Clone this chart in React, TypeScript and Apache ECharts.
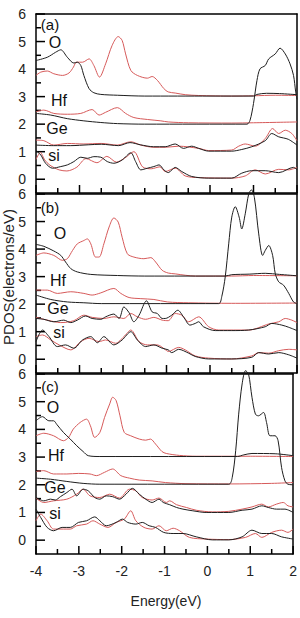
import React, { useEffect, useRef } from "react";
import * as echarts from "echarts";

type Pt = [number, number];

// Projected DOS (electrons/eV) vs energy (eV). Curves are stacked with
// offsets: O +3, Hf +2, Ge +1, Si +0. Black = one configuration, red = the other.

// ---- panel (a) ----
const aOBlack: Pt[] = [[-4, 4.31], [-3.74, 4.43], [-3.55, 4.61], [-3.43, 4.7], [-3.28, 4.43], [-3.13, 4.22], [-3.05, 4.25], [-2.97, 4.13], [-2.9, 3.77], [-2.78, 3.29], [-2.67, 3.14], [-2.51, 3.08], [-2.13, 3.05], [-1.5, 3.02], [0, 3.02], [1.0, 3.02], [1.08, 3.08], [1.3, 3.12], [1.6, 3.11], [2.0, 3.07]];
const aORed: Pt[] = [[-4, 3.77], [-3.89, 3.89], [-3.74, 3.93], [-3.59, 3.83], [-3.39, 3.77], [-3.24, 3.86], [-3.14, 4.07], [-3.07, 4.25], [-2.93, 4.25], [-2.78, 4.37], [-2.67, 4.13], [-2.54, 3.71], [-2.4, 4.19], [-2.25, 4.86], [-2.11, 5.18], [-2.02, 5.04], [-1.94, 4.55], [-1.82, 3.95], [-1.67, 3.77], [-1.44, 3.67], [-1.33, 3.73], [-1.21, 3.59], [-1.06, 3.29], [-0.96, 3.17], [-0.8, 3.13], [-0.57, 3.07], [-0.26, 3.04], [0.5, 3.02], [1.0, 3.03], [1.5, 3.05], [2.0, 3.04]];
const aHfBlack: Pt[] = [[-4, 2.39], [-3.66, 2.33], [-3.28, 2.2], [-2.9, 2.12], [-2.51, 2.06], [-2.13, 2.02], [-1.5, 2.0], [0.85, 2.0], [0.92, 2.14], [1.0, 2.75], [1.08, 3.59], [1.15, 4.01], [1.27, 4.13], [1.35, 4.37], [1.5, 4.55], [1.61, 4.76], [1.73, 4.55], [1.84, 4.19], [1.92, 3.77], [1.97, 3.17], [2.0, 2.9]];
const aHfRed: Pt[] = [[-4, 2.45], [-3.82, 2.51], [-3.59, 2.39], [-3.28, 2.36], [-2.97, 2.39], [-2.71, 2.53], [-2.55, 2.33], [-2.4, 2.43], [-2.13, 2.6], [-1.94, 2.39], [-1.75, 2.24], [-1.44, 2.17], [-1.13, 2.12], [-0.96, 2.08], [-0.5, 2.05], [0.5, 2.04], [1.0, 2.05], [2.0, 2.08]];
const aGeBlack: Pt[] = [[-4, 1.24], [-3.6, 1.22], [-3.2, 1.22], [-2.8, 1.25], [-2.5, 1.27], [-2.1, 1.22], [-1.84, 1.33], [-1.6, 1.25], [-1.3, 1.18], [-1.03, 1.18], [-0.8, 1.28], [-0.61, 1.12], [-0.42, 1.2], [-0.26, 1.12], [-0.03, 1.02], [0.5, 1.02], [0.73, 1.08], [0.96, 1.18], [1.27, 1.4], [1.42, 1.66], [1.58, 1.54], [1.8, 1.45], [2.0, 1.24]];
const aGeRed: Pt[] = [[-4, 1.42], [-3.82, 1.4], [-3.59, 1.24], [-3.28, 1.3], [-2.9, 1.28], [-2.5, 1.3], [-2.13, 1.24], [-1.82, 1.36], [-1.59, 1.24], [-1.29, 1.16], [-1.03, 1.16], [-0.72, 1.2], [-0.26, 1.12], [-0.03, 1.04], [0.5, 1.06], [0.66, 1.2], [0.81, 1.28], [1.04, 1.2], [1.27, 1.48], [1.44, 1.84], [1.58, 1.66], [1.73, 1.78], [1.88, 1.66], [2.0, 1.4]];
const aSiBlack: Pt[] = [[-4, 1.04], [-3.89, 0.88], [-3.78, 0.58], [-3.62, 0.4], [-3.43, 0.46], [-3.28, 0.52], [-3.13, 0.64], [-2.97, 0.8], [-2.82, 0.76], [-2.67, 0.82], [-2.51, 0.8], [-2.36, 0.64], [-2.21, 0.58], [-2.02, 0.7], [-1.82, 0.96], [-1.71, 0.64], [-1.59, 0.34], [-1.44, 0.4], [-1.29, 0.46], [-1.17, 0.52], [-1.06, 0.34], [-0.96, 0.24], [-0.8, 0.43], [-0.65, 0.28], [-0.42, 0.1], [-0.03, 0.04], [0.5, 0.04], [0.73, 0.22], [0.96, 0.31], [1.27, 0.31], [1.58, 0.24], [1.92, 0.43], [2.0, 0.34]];
const aSiRed: Pt[] = [[-4, 0.72], [-3.9, 0.97], [-3.8, 0.7], [-3.68, 0.51], [-3.47, 0.34], [-3.29, 0.3], [-3.06, 0.44], [-2.85, 0.75], [-2.6, 0.6], [-2.37, 0.83], [-2.15, 0.62], [-1.95, 0.78], [-1.75, 1.0], [-1.55, 0.45], [-1.35, 0.38], [-1.15, 0.45], [-1.03, 0.28], [-0.8, 0.4], [-0.57, 0.12], [-0.26, 0.06], [0.5, 0.04], [0.81, 0.12], [1.04, 0.34], [1.27, 0.19], [1.58, 0.36], [1.81, 0.34], [2.0, 0.43]];

// ---- panel (b) ----
const bOBlack: Pt[] = [[-4, 4.17], [-3.82, 4.1], [-3.59, 3.93], [-3.43, 3.77], [-3.32, 3.53], [-3.2, 3.29], [-3.05, 3.17], [-2.74, 3.08], [-2.13, 3.04], [-1.5, 3.02], [0.35, 3.02], [0.5, 3.07], [0.9, 3.09], [1.27, 3.12], [1.6, 3.08], [2.0, 3.03]];
const bORed: Pt[] = [[-4, 3.77], [-3.82, 3.86], [-3.59, 3.77], [-3.39, 3.59], [-3.28, 3.65], [-3.16, 3.95], [-3.05, 4.19], [-2.9, 4.31], [-2.82, 4.37], [-2.74, 4.19], [-2.63, 3.71], [-2.55, 3.71], [-2.44, 4.19], [-2.32, 4.8], [-2.21, 5.13], [-2.11, 4.98], [-2.02, 4.43], [-1.9, 3.83], [-1.75, 3.71], [-1.52, 3.65], [-1.36, 3.69], [-1.25, 3.53], [-1.1, 3.23], [-0.96, 3.13], [-0.8, 3.1], [-0.57, 3.05], [-0.34, 3.02], [0.5, 3.02], [1.0, 3.04], [2.0, 3.03]];
const bHfBlack: Pt[] = [[-4, 2.33], [-3.66, 2.17], [-3.28, 2.08], [-2.9, 2.05], [-2.5, 2.02], [0.2, 2.02], [0.27, 2.27], [0.35, 2.99], [0.43, 4.19], [0.5, 5.16], [0.58, 5.54], [0.67, 5.16], [0.73, 4.73], [0.81, 5.28], [0.89, 6.0], [0.95, 6.15], [1.02, 5.88], [1.12, 4.55], [1.21, 3.77], [1.27, 3.95], [1.35, 4.13], [1.44, 3.77], [1.5, 3.11], [1.58, 2.81], [1.69, 2.69], [1.81, 2.39], [1.92, 2.08], [2.0, 2.02]];
const bHfRed: Pt[] = [[-4, 2.51], [-3.74, 2.51], [-3.51, 2.39], [-3.2, 2.45], [-2.9, 2.39], [-2.71, 2.33], [-2.51, 2.41], [-2.21, 2.57], [-2.05, 2.39], [-1.86, 2.24], [-1.59, 2.2], [-1.29, 2.17], [-0.98, 2.08], [-0.5, 2.05], [0.5, 2.03], [2.0, 2.04]];
const bGeBlack: Pt[] = [[-4, 1.48], [-3.82, 1.45], [-3.59, 1.36], [-3.36, 1.42], [-3.2, 1.33], [-3.05, 1.42], [-2.86, 1.57], [-2.71, 1.48], [-2.51, 1.45], [-2.4, 1.54], [-2.21, 1.64], [-2.09, 1.48], [-1.98, 1.9], [-1.86, 1.69], [-1.75, 1.36], [-1.63, 1.6], [-1.46, 2.12], [-1.33, 1.72], [-1.21, 1.66], [-1.1, 1.48], [-1.03, 1.48], [-0.88, 1.6], [-0.74, 1.78], [-0.61, 1.54], [-0.46, 1.24], [-0.34, 1.3], [-0.26, 1.36], [-0.15, 1.18], [0.12, 1.04], [0.5, 1.04], [0.89, 1.06], [1.27, 1.18], [1.42, 1.3], [1.65, 1.24], [1.81, 1.16], [2.0, 1.04]];
const bGeRed: Pt[] = [[-4, 1.52], [-3.74, 1.42], [-3.43, 1.33], [-3.13, 1.4], [-2.9, 1.6], [-2.71, 1.52], [-2.44, 1.48], [-2.21, 1.54], [-1.98, 1.48], [-1.82, 1.66], [-1.67, 1.54], [-1.48, 1.45], [-1.29, 1.52], [-1.1, 1.42], [-0.96, 1.4], [-0.8, 1.66], [-0.65, 1.6], [-0.49, 1.36], [-0.26, 1.54], [-0.03, 1.18], [0.2, 1.06], [0.89, 1.06], [1.35, 1.28], [1.58, 1.36], [1.73, 1.48], [1.88, 1.42], [2.0, 1.33]];
const bSiBlack: Pt[] = [[-4, 0.64], [-3.85, 1.06], [-3.7, 0.82], [-3.51, 0.46], [-3.32, 0.52], [-3.13, 0.4], [-2.93, 0.7], [-2.74, 0.82], [-2.59, 0.6], [-2.44, 0.82], [-2.21, 0.52], [-2.02, 0.7], [-1.82, 1.0], [-1.67, 0.7], [-1.48, 0.46], [-1.29, 0.52], [-1.1, 0.4], [-0.96, 0.34], [-0.88, 0.24], [-0.72, 0.36], [-0.49, 0.22], [-0.34, 0.1], [-0.03, 0.01], [0.5, 0.01], [0.96, 0.07], [1.12, 0.24], [1.35, 0.19], [1.58, 0.24], [1.81, 0.16], [2.0, 0.04]];
const bSiRed: Pt[] = [[-4, 0.82], [-3.85, 0.88], [-3.66, 0.7], [-3.47, 0.52], [-3.2, 0.34], [-2.97, 0.64], [-2.78, 0.76], [-2.55, 0.64], [-2.4, 0.7], [-2.17, 0.58], [-1.98, 0.82], [-1.82, 1.06], [-1.63, 0.64], [-1.44, 0.52], [-1.21, 0.52], [-1.02, 0.34], [-0.96, 0.28], [-0.72, 0.43], [-0.57, 0.34], [-0.34, 0.12], [-0.03, 0.04], [0.5, 0.01], [0.96, 0.12], [1.12, 0.24], [1.35, 0.22], [1.58, 0.31], [1.81, 0.36], [2.0, 0.34]];

// ---- panel (c) ----
const cOBlack: Pt[] = [[-4, 4.31], [-3.85, 4.46], [-3.7, 4.31], [-3.59, 4.31], [-3.51, 4.17], [-3.36, 3.89], [-3.2, 3.65], [-3.05, 3.41], [-2.9, 3.2], [-2.78, 3.05], [-2.51, 3.02], [0.7, 3.02], [0.85, 3.08], [1.04, 3.13], [1.58, 3.12], [2.0, 3.05]];
const cORed: Pt[] = [[-4, 3.77], [-3.82, 3.86], [-3.59, 3.77], [-3.36, 3.59], [-3.24, 3.71], [-3.13, 4.01], [-2.97, 4.25], [-2.82, 4.37], [-2.73, 4.13], [-2.63, 3.71], [-2.51, 3.89], [-2.4, 4.43], [-2.28, 4.92], [-2.21, 5.16], [-2.13, 5.04], [-2.04, 4.49], [-1.94, 3.89], [-1.79, 3.77], [-1.59, 3.65], [-1.44, 3.61], [-1.33, 3.65], [-1.21, 3.47], [-1.06, 3.2], [-0.96, 3.13], [-0.65, 3.06], [-0.26, 3.03], [1.0, 3.03], [2.0, 3.02]];
const cHfBlack: Pt[] = [[-4, 2.24], [-3.66, 2.2], [-3.28, 2.12], [-2.9, 2.05], [-2.51, 2.02], [0.5, 2.02], [0.58, 2.27], [0.66, 3.23], [0.73, 4.55], [0.81, 5.64], [0.89, 6.12], [0.96, 6.0], [1.04, 5.16], [1.12, 4.55], [1.19, 4.49], [1.31, 4.61], [1.38, 4.25], [1.46, 3.77], [1.58, 3.77], [1.65, 3.59], [1.73, 2.63], [1.81, 2.14], [1.88, 2.02], [2.0, 2.0]];
const cHfRed: Pt[] = [[-4, 2.48], [-3.82, 2.51], [-3.59, 2.39], [-3.28, 2.39], [-3.01, 2.41], [-2.74, 2.39], [-2.59, 2.33], [-2.4, 2.45], [-2.21, 2.57], [-2.02, 2.33], [-1.82, 2.24], [-1.59, 2.17], [-1.29, 2.14], [-0.98, 2.08], [-0.5, 2.04], [0.5, 2.03], [1.5, 2.05], [2.0, 2.08]];
const cGeBlack: Pt[] = [[-4, 1.54], [-3.82, 1.42], [-3.66, 1.48], [-3.55, 1.45], [-3.43, 1.57], [-3.28, 1.72], [-3.16, 1.84], [-3.05, 1.6], [-2.9, 1.84], [-2.78, 1.78], [-2.63, 1.54], [-2.51, 1.48], [-2.36, 1.6], [-2.21, 1.57], [-2.05, 1.48], [-1.9, 1.66], [-1.75, 1.87], [-1.59, 1.66], [-1.44, 1.48], [-1.29, 1.36], [-1.13, 1.48], [-1.03, 1.36], [-0.88, 1.28], [-0.72, 1.18], [-0.57, 1.12], [-0.34, 1.06], [-0.03, 1.0], [0.5, 1.0], [0.81, 1.08], [1.04, 1.12], [1.27, 1.24], [1.42, 1.18], [1.61, 1.12], [1.81, 1.12], [2.0, 1.0]];
const cGeRed: Pt[] = [[-4, 1.52], [-3.82, 1.36], [-3.59, 1.42], [-3.28, 1.48], [-3.05, 1.66], [-2.9, 1.84], [-2.74, 1.6], [-2.51, 1.54], [-2.28, 1.66], [-2.05, 1.52], [-1.82, 1.84], [-1.67, 1.78], [-1.52, 1.54], [-1.29, 1.45], [-1.13, 1.52], [-0.96, 1.36], [-0.88, 1.42], [-0.72, 1.28], [-0.49, 1.18], [-0.26, 1.08], [0.12, 1.02], [0.5, 1.04], [0.81, 1.12], [1.04, 1.2], [1.27, 1.3], [1.42, 1.2], [1.61, 1.3], [1.77, 1.36], [1.88, 1.24], [2.0, 1.2]];
const cSiBlack: Pt[] = [[-4, 1.12], [-3.89, 0.82], [-3.74, 0.46], [-3.59, 0.34], [-3.39, 0.46], [-3.2, 0.46], [-3.01, 0.64], [-2.82, 0.7], [-2.63, 0.84], [-2.51, 0.7], [-2.36, 0.52], [-2.13, 0.64], [-1.98, 0.76], [-1.86, 0.64], [-1.67, 0.58], [-1.52, 0.64], [-1.36, 0.52], [-1.21, 0.46], [-1.02, 0.28], [-0.8, 0.24], [-0.57, 0.24], [-0.26, 0.12], [0.12, 0.01], [0.5, 0.01], [0.81, 0.12], [1.04, 0.36], [1.27, 0.24], [1.5, 0.24], [1.73, 0.12], [2.0, 0.04]];
const cSiRed: Pt[] = [[-4, 0.7], [-3.89, 0.94], [-3.74, 0.7], [-3.59, 0.4], [-3.36, 0.4], [-3.2, 0.4], [-3.05, 0.52], [-2.82, 0.58], [-2.67, 0.7], [-2.51, 0.58], [-2.32, 0.46], [-2.13, 0.64], [-1.94, 0.76], [-1.79, 1.06], [-1.67, 0.7], [-1.48, 0.46], [-1.29, 0.4], [-1.13, 0.52], [-0.96, 0.34], [-0.8, 0.43], [-0.65, 0.34], [-0.42, 0.1], [-0.03, 0.04], [0.5, 0.02], [0.89, 0.1], [1.12, 0.24], [1.27, 0.1], [1.5, 0.28], [1.73, 0.36], [1.88, 0.28], [2.0, 0.4]];

const panelTags = ["(a)", "(b)", "(c)"];
const speciesNames = ["O", "Hf", "Ge", "si"];
const xTickValues = [-4, -3, -2, -1, 0, 1, 2];
const xMinorValues = [-3.5, -2.5, -1.5, -0.5, 0.5, 1.5];
const yTickValues = [0, 1, 2, 3, 4, 5, 6];
const yMinorValues = [0.5, 1.5, 2.5, 3.5, 4.5, 5.5];
const X_MIN = -4;
const X_MAX = 2;
const Y_MIN = -0.5;
const Y_MAX = 6;

const panels: { black: Pt[]; red: Pt[] }[][] = [
  [
    { black: aOBlack, red: aORed },
    { black: aHfBlack, red: aHfRed },
    { black: aGeBlack, red: aGeRed },
    { black: aSiBlack, red: aSiRed },
  ],
  [
    { black: bOBlack, red: bORed },
    { black: bHfBlack, red: bHfRed },
    { black: bGeBlack, red: bGeRed },
    { black: bSiBlack, red: bSiRed },
  ],
  [
    { black: cOBlack, red: cORed },
    { black: cHfBlack, red: cHfRed },
    { black: cGeBlack, red: cGeRed },
    { black: cSiBlack, red: cSiRed },
  ],
];

const FONT = "'Liberation Sans', Arial, Helvetica, sans-serif";
const BLACK = "#1e1e1e";
const RED = "#d65a5a";
const FRAME = "#000";

// layout of the three stacked frames
const gridBoxes = [
  { top: 14, height: 179 },
  { top: 194, height: 179 },
  { top: 374, height: 180 },
];

// annotation placement in each frame (pixel centres)
const tagPos = [
  [50, 24],
  [50, 207],
  [50, 386],
];
const speciesPos = [
  [[55, 42], [59, 100], [57, 128], [54, 155]],
  [[60, 233], [58, 280], [58, 308], [59, 332]],
  [[53, 407], [56, 455], [55, 487], [55, 513]],
];

const lineStyle = { color: FRAME, width: 1.5 };

// inward tick marks, placed through the axis scales:
// [x, y] anchor on the frame edge, then pixel offset of the tick's far end
type Tick = [number, number, number, number];
const tickData: Tick[] = [
  ...xTickValues.map((v): Tick => [v, Y_MIN, 0, -8]),
  ...xMinorValues.map((v): Tick => [v, Y_MIN, 0, -5]),
  ...yTickValues.map((v): Tick => [X_MIN, v, 9, 0]),
  ...yMinorValues.map((v): Tick => [X_MIN, v, 5, 0]),
];

export default function App() {
  const ref = useRef<HTMLDivElement>(null);

  useEffect(() => {
    if (!ref.current) return;
    const chart = echarts.init(ref.current, undefined, { renderer: "svg" });

    const grid = gridBoxes.map((g) => ({
      left: 36,
      width: 261,
      top: g.top,
      height: g.height,
      show: false,
    }));

    // per frame: bottom axis (labels on the last frame) and a bare top edge
    const xAxis: any[] = [];
    gridBoxes.forEach((_, i) => {
      xAxis.push({
        type: "value",
        gridIndex: i,
        min: X_MIN,
        max: X_MAX,
        position: "bottom",
        axisLine: { show: true, onZero: false, lineStyle },
        axisTick: { show: false },
        splitLine: { show: false },
        axisLabel: {
          show: i === 2,
          customValues: xTickValues,
          fontSize: 14,
          fontFamily: FONT,
          color: "#222",
          margin: 10,
        },
      });
      xAxis.push({
        type: "value",
        gridIndex: i,
        min: X_MIN,
        max: X_MAX,
        position: "top",
        axisLine: { show: true, onZero: false, lineStyle },
        axisTick: { show: false },
        splitLine: { show: false },
        axisLabel: { show: false },
      });
    });

    const yAxis: any[] = [];
    gridBoxes.forEach((_, i) => {
      yAxis.push({
        type: "value",
        gridIndex: i,
        min: Y_MIN,
        max: Y_MAX,
        position: "left",
        axisLine: { show: true, onZero: false, lineStyle },
        splitLine: { show: false },
        axisTick: { show: false },
        axisLabel: {
          show: true,
          customValues: yTickValues,
          fontSize: 14,
          fontFamily: FONT,
          color: "#222",
          margin: 10,
        },
      });
      yAxis.push({
        type: "value",
        gridIndex: i,
        min: Y_MIN,
        max: Y_MAX,
        position: "right",
        axisLine: { show: true, onZero: false, lineStyle },
        splitLine: { show: false },
        axisTick: { show: false },
        axisLabel: { show: false },
      });
    });

    const series: any[] = [];
    panels.forEach((panel, p) => {
      panel.forEach((sp, s) => {
        (["red", "black"] as const).forEach((tone) => {
          series.push({
            type: "line",
            name: `${panelTags[p]} ${speciesNames[s]} ${tone}`,
            xAxisIndex: p * 2,
            yAxisIndex: p * 2,
            data: sp[tone],
            symbol: "none",
            showSymbol: false,
            smooth: 0.3,
            clip: !(s === 1 && tone === "black"),
            z: tone === "black" ? 3 : 2,
            lineStyle: { color: tone === "black" ? BLACK : RED, width: 1 },
          });
        });
      });
      series.push({
        type: "custom",
        xAxisIndex: p * 2,
        yAxisIndex: p * 2,
        encode: { x: 0, y: 1 },
        data: tickData,
        renderItem: (_params: any, api: any) => {
          const pt = api.coord([api.value(0), api.value(1)]);
          return {
            type: "line",
            shape: { x1: pt[0], y1: pt[1], x2: pt[0] + api.value(2), y2: pt[1] + api.value(3) },
            style: { stroke: FRAME, lineWidth: 1.5 },
          };
        },
      });
    });

    const graphic: any[] = [];
    panelTags.forEach((tag, p) => {
      graphic.push({
        type: "text",
        x: tagPos[p][0],
        y: tagPos[p][1],
        style: { text: tag, fontSize: 15, fontFamily: FONT, fill: "#111", align: "center", verticalAlign: "middle" },
      });
      speciesNames.forEach((nm, s) => {
        graphic.push({
          type: "text",
          x: speciesPos[p][s][0],
          y: speciesPos[p][s][1],
          style: { text: nm, fontSize: 16, fontFamily: FONT, fill: "#111", align: "center", verticalAlign: "middle" },
        });
      });
    });
    graphic.push({
      type: "text",
      x: 166,
      y: 601,
      style: { text: "Energy(eV)", fontSize: 14, fontFamily: FONT, fill: "#222", align: "center", verticalAlign: "middle" },
    });
    graphic.push({
      type: "text",
      x: 8,
      y: 277,
      rotation: Math.PI / 2,
      style: { text: "PDOS(electrons/eV)", fontSize: 15, fontFamily: FONT, fill: "#222", align: "center", verticalAlign: "middle" },
    });

    chart.setOption({
      animation: false,
      backgroundColor: "#fff",
      grid,
      xAxis,
      yAxis,
      series,
      graphic,
    });

    return () => chart.dispose();
  }, []);

  return <div ref={ref} style={{ position: "fixed", left: 0, top: 0, width: 300, height: 618 }} />;
}
